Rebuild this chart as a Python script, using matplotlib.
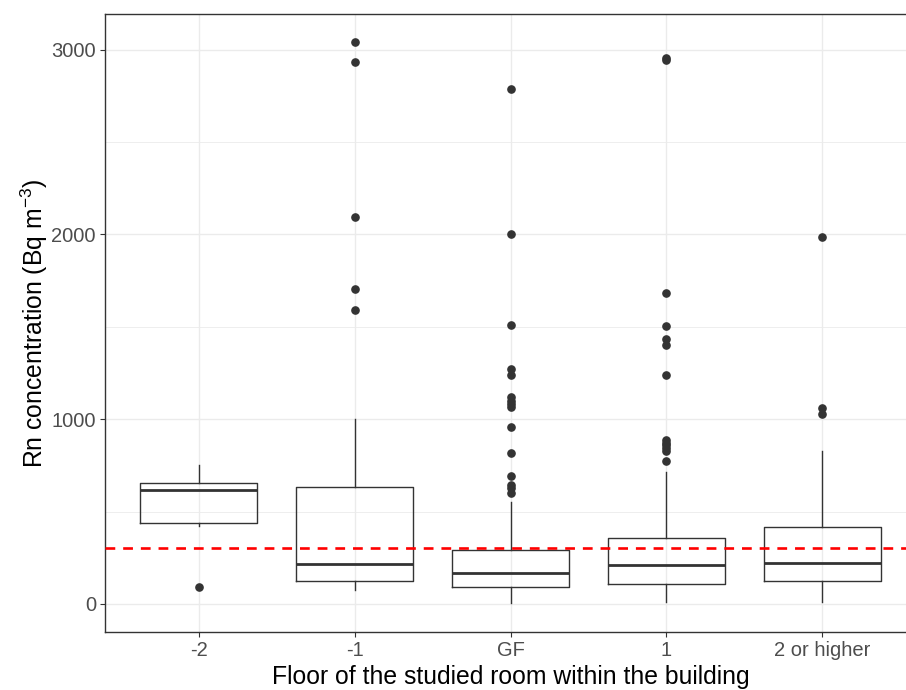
import matplotlib
matplotlib.use("Agg")
import matplotlib.pyplot as plt
import numpy as np

plt.rcParams["font.family"] = ["Liberation Sans", "DejaVu Sans"]
plt.rcParams["mathtext.fontset"] = "custom"
plt.rcParams["mathtext.rm"] = "Liberation Sans"
plt.rcParams["mathtext.it"] = "Liberation Sans"

# box statistics (Bq m-3)
floors = ["-2", "-1", "GF", "1", "2 or higher"]
whis_lo = [420, 77, 5, 11, 11]
q1 = [437, 122, 90, 108, 122]
medians = [616, 218, 167, 211, 223]
q3 = [657, 632, 293, 356, 419]
whis_hi = [752, 1000, 554, 716, 830]
outliers = [
    [94],
    [3041, 2935, 2093, 1706, 1593],
    [2786, 2000, 1507, 1274, 1238, 1121, 1100, 1081, 1064, 955, 819, 693, 641, 626, 603],
    [2957, 2945, 1681, 1505, 1436, 1400, 1238, 887, 872, 858, 843, 828, 776],
    [1985, 1062, 1026],
]
reference_level = 300

W, H = 906, 690
fig = plt.figure(figsize=(W / 100, H / 100), dpi=100)
# panel is cropped on the right in the reference, so it runs past the figure edge
ax = fig.add_axes([105 / W, (H - 632) / H, 811 / W, (632 - 14) / H])

stats = []
for i, name in enumerate(floors):
    stats.append(dict(label=name, whislo=whis_lo[i], q1=q1[i], med=medians[i],
                      q3=q3[i], whishi=whis_hi[i], fliers=outliers[i]))

line_col = "#333333"
ax.bxp(stats, positions=np.arange(1, len(floors) + 1), widths=0.75,
       showcaps=False, patch_artist=False,
       boxprops=dict(color=line_col, linewidth=1.0),
       whiskerprops=dict(color=line_col, linewidth=1.0),
       medianprops=dict(color=line_col, linewidth=2.0),
       flierprops=dict(marker="o", markersize=5.2, markerfacecolor=line_col,
                       markeredgecolor=line_col, linestyle="none"),
       zorder=3)

ax.axhline(reference_level, color="#FF0000", linewidth=1.9, dashes=(3.7, 3.0), zorder=4)

ax.set_xlim(0.4, 5.6)
ax.set_ylim(-152, 3193)
ax.set_yticks([0, 1000, 2000, 3000])
ax.set_yticks([500, 1500, 2500], minor=True)
ax.set_xticks(np.arange(1, len(floors) + 1))
ax.set_xticklabels(floors)

ax.grid(which="major", color="#EBEBEB", linewidth=1.0, zorder=0)
ax.grid(which="minor", axis="y", color="#EBEBEB", linewidth=0.6, zorder=0)
ax.set_axisbelow(True)

ax.tick_params(axis="both", which="major", labelsize=14.5, labelcolor="#4D4D4D",
               color="#333333", length=3.5, width=0.8, pad=3)
ax.tick_params(axis="y", which="minor", length=0)
for sp in ax.spines.values():
    sp.set_color("#333333")
    sp.set_linewidth(1.0)
ax.spines["right"].set_visible(False)

ax.set_xlabel("Floor of the studied room within the building", fontsize=17.8,
              color="black", labelpad=3.5)
ax.set_ylabel("Rn concentration (Bq m$^{-3}$)", fontsize=17.8, color="black", labelpad=1)

fig.savefig("out.png", dpi=100)
